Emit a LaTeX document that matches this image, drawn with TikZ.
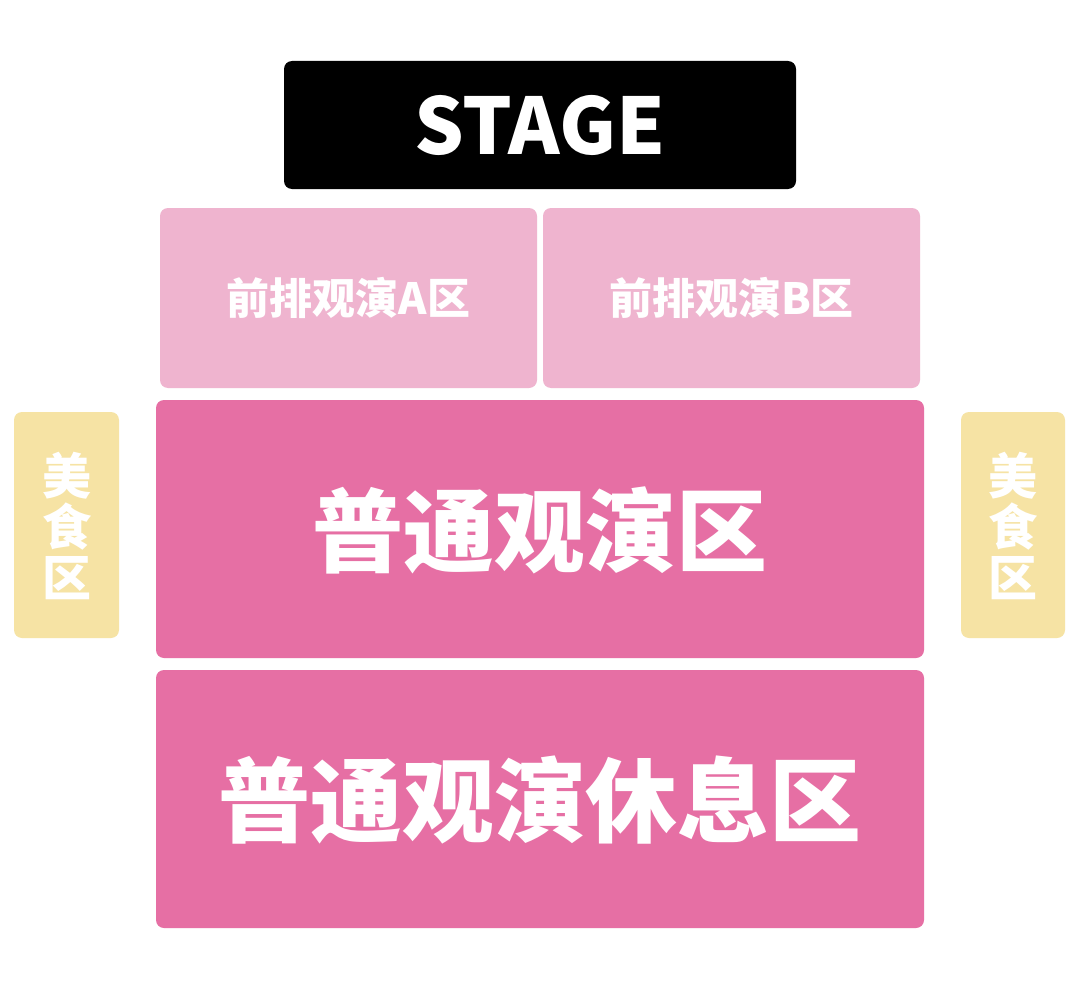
\documentclass[tikz,border=0pt]{standalone}
\usepackage{fontspec}
\setmainfont{Noto Sans CJK SC}
\begin{document}
\begin{tikzpicture}[x=1pt,y=-1pt,
  zone/.style={rounded corners=8pt},
  lbl/.style={text=white,font=\bfseries,inner sep=0pt}]
\definecolor{stageblk}{HTML}{000000}
\definecolor{lightpink}{HTML}{EFB4CF}
\definecolor{darkpink}{HTML}{E66FA4}
\definecolor{foodyel}{HTML}{F6E3A4}
\useasboundingbox[fill=white] (0,0) rectangle (1080,990);
\fill[zone,stageblk] (284,61) rectangle (796,189);
\node[lbl,font=\bfseries\fontsize{78}{80}\selectfont] (stage) at (540,125) {STAGE};
\fill[zone,lightpink] (160,208) rectangle (537,388);
\node[lbl,font=\bfseries\fontsize{43}{46}\selectfont] (fa) at (348.5,298) {前排观演A区};
\fill[zone,lightpink] (543,208) rectangle (920,388);
\node[lbl,font=\bfseries\fontsize{43}{46}\selectfont] (fb) at (731.5,298) {前排观演B区};
\fill[zone,darkpink] (156,400) rectangle (924,658);
\node[lbl,font=\bfseries\fontsize{91}{94}\selectfont] (mid) at (540,530) {普通观演区};
\fill[zone,darkpink] (156,670) rectangle (924,928);
\node[lbl,font=\bfseries\fontsize{92}{95}\selectfont] (rest) at (540,800) {普通观演休息区};
\fill[zone,foodyel] (14,412) rectangle (119,638);
\node[lbl,font=\bfseries\fontsize{49}{51}\selectfont,align=center] (fl) at (66.5,526) {美\\食\\区};
\fill[zone,foodyel] (961,412) rectangle (1065,638);
\node[lbl,font=\bfseries\fontsize{49}{51}\selectfont,align=center] (fr) at (1013,526) {美\\食\\区};
\end{tikzpicture}
\end{document}
